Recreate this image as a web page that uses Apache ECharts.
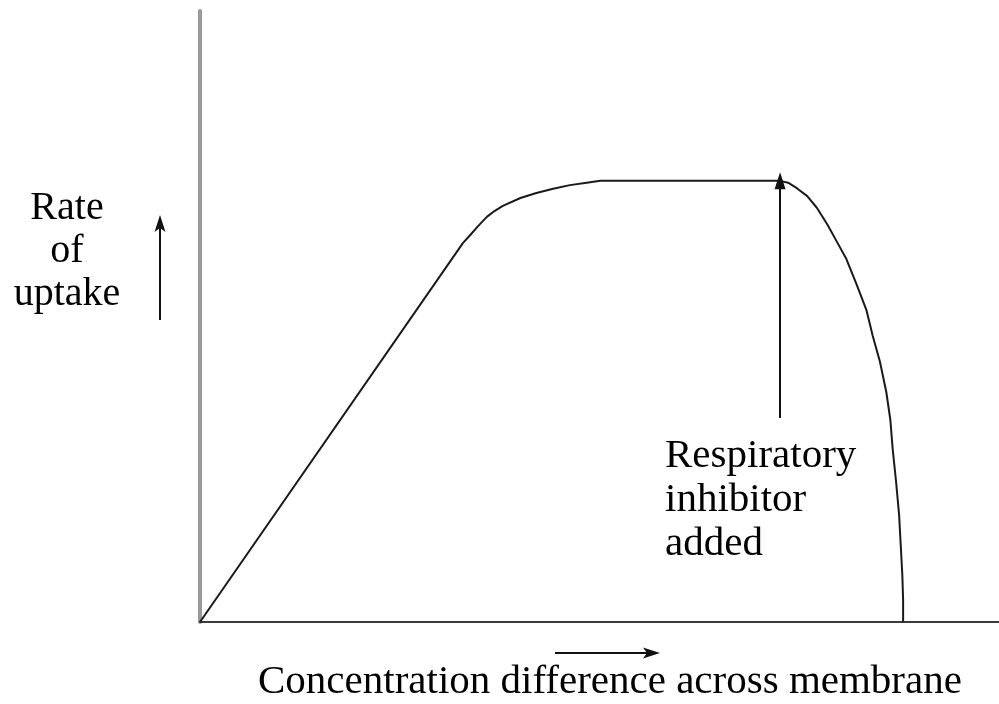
<!DOCTYPE html>
<html>
<head>
<meta charset="utf-8">
<script src="https://cdn.jsdelivr.net/npm/echarts@6/dist/echarts.min.js"></script>
<style>
  html, body { margin: 0; padding: 0; background: #fff; }
  #chart { width: 999px; height: 704px; }
</style>
</head>
<body>
<div id="chart"></div>
<script>
// Concentration difference (relative units) and rate of uptake (relative units)
const concentration = [
  0, 32.9, 33.8, 34.8, 35.9, 36.9, 37.9, 40.1, 42.1, 44.2, 46.3, 48.4, 50.1,
  72.6, 73.6, 74.7, 76.0, 77.2, 78.5, 79.6, 80.9, 82.1, 83.4, 84.2, 85.1,
  85.9, 86.4, 86.7, 87.1, 87.5, 87.7, 87.9, 88.0, 88.0
];
const uptakeRate = [
  0, 62.0, 63.3, 64.8, 66.3, 67.3, 68.1, 69.4, 70.2, 70.9, 71.5, 71.9, 72.2,
  72.2, 71.9, 71.0, 69.7, 67.8, 65.1, 62.5, 59.4, 55.5, 51.1, 46.8, 42.6,
  37.6, 33.1, 28.2, 23.2, 17.5, 12.6, 7.7, 3.6, 0
];

// Point at which the respiratory inhibitor is added
const inhibitorX = 72.6;
const inhibitorArrowFrom = 33.4;
const inhibitorArrowTo = 72.2;

const yAxisLabel = ['Rate', 'of', 'uptake'];
const xAxisLabel = 'Concentration difference across membrane';
const inhibitorLabel = ['Respiratory', 'inhibitor', 'added'];

const FONT = '"Liberation Serif", "DejaVu Serif", serif';
const chart = echarts.init(document.getElementById('chart'), null, { renderer: 'canvas' });

function arrowGraphic(x1, y1, x2, y2) {
  // straight shaft with a filled, slightly notched head at (x2, y2)
  const dx = x2 - x1, dy = y2 - y1;
  const len = Math.sqrt(dx * dx + dy * dy);
  const ux = dx / len, uy = dy / len;
  const headLen = 17, headHalf = 5.5, notch = 4;
  const bx = x2 - ux * headLen, by = y2 - uy * headLen;
  const nx = -uy, ny = ux;
  return [
    { type: 'line', shape: { x1: x1, y1: y1, x2: bx + ux * notch, y2: by + uy * notch },
      style: { stroke: '#111', lineWidth: 2 } },
    { type: 'polygon', shape: { points: [
        [x2, y2],
        [bx + nx * headHalf, by + ny * headHalf],
        [bx + ux * notch, by + uy * notch],
        [bx - nx * headHalf, by - ny * headHalf]
      ] }, style: { fill: '#111' } }
  ];
}

const option = {
  animation: false,
  backgroundColor: '#fff',
  grid: { left: 200, top: 11, right: 0, bottom: 82, containLabel: false },
  xAxis: {
    type: 'value', min: 0, max: 100,
    axisLine: { show: true, onZero: false, lineStyle: { color: '#3a3a3a', width: 2 } },
    axisTick: { show: false }, axisLabel: { show: false }, splitLine: { show: false }
  },
  yAxis: {
    type: 'value', min: 0, max: 100,
    axisLine: { show: true, onZero: false, lineStyle: { color: '#9a9a9a', width: 4 } },
    axisTick: { show: false }, axisLabel: { show: false }, splitLine: { show: false }
  },
  series: [{
    type: 'line',
    data: concentration.map((c, i) => [c, uptakeRate[i]]),
    smooth: false,
    showSymbol: false,
    lineStyle: { color: '#1a1a1a', width: 2, join: 'round' },
    markLine: {
      silent: true,
      symbol: ['none', 'triangle'],
      symbolSize: [11, 17],
      label: { show: false },
      lineStyle: { color: '#111', width: 2, type: 'solid' },
      data: [[
        { coord: [inhibitorX, inhibitorArrowFrom] },
        { coord: [inhibitorX, inhibitorArrowTo] }
      ]]
    }
  }],
  graphic: [
    {
      type: 'text', x: 67, y: 187,
      style: { text: yAxisLabel.join('\n'), font: '40px ' + FONT, fill: '#000',
               align: 'center', lineHeight: 43 }
    },
    {
      type: 'text', x: 665, y: 434,
      style: { text: inhibitorLabel.join('\n'), font: '41px ' + FONT, fill: '#000',
               align: 'left', lineHeight: 44 }
    },
    {
      type: 'text', x: 258, y: 662,
      style: { text: xAxisLabel, font: '41px ' + FONT, fill: '#000', align: 'left' }
    }
  ].concat(arrowGraphic(160, 320, 160, 215))
   .concat(arrowGraphic(555, 653, 660, 653))
};

chart.setOption(option);
</script>
</body>
</html>
